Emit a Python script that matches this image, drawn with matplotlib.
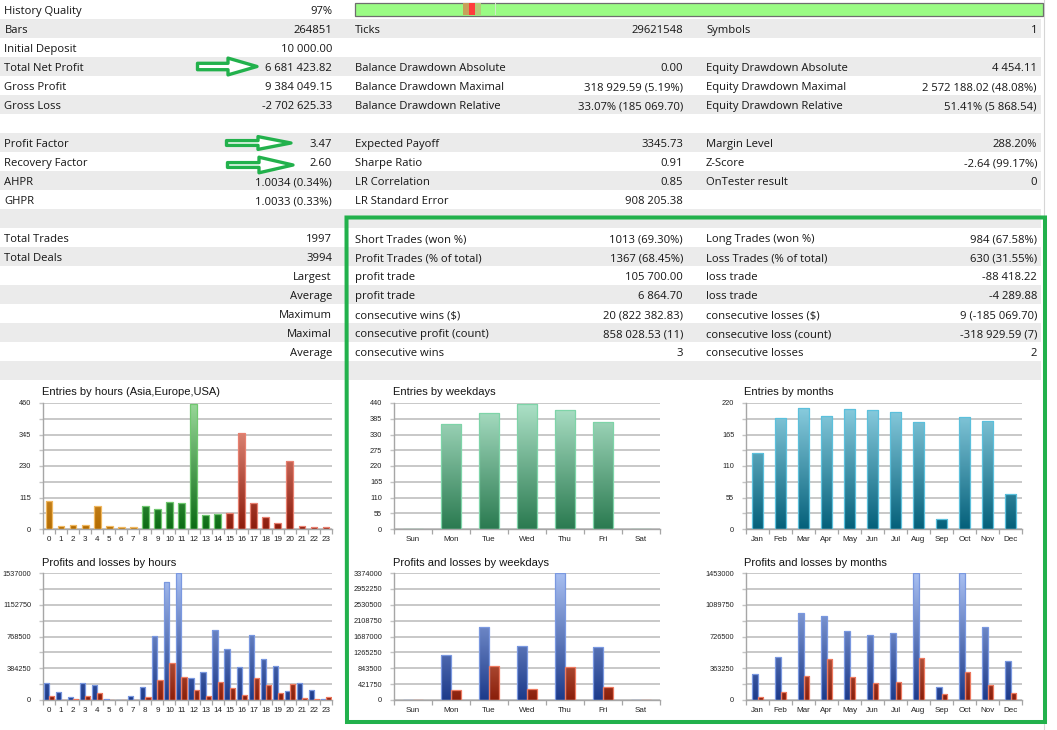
import numpy as np
import matplotlib
matplotlib.use("Agg")
import matplotlib.pyplot as plt
from matplotlib.colors import LinearSegmentedColormap
from matplotlib.patches import Polygon, Rectangle

# ---------------- data ----------------
COL1_LABELS = ["History Quality", "Bars", "Initial Deposit", "Total Net Profit", "Gross Profit", "Gross Loss", "",
               "Profit Factor", "Recovery Factor", "AHPR", "GHPR", "",
               "Total Trades", "Total Deals", "", "", "", "", "", ""]
COL1_VALUES = ["97%", "264851", "10 000.00", "6 681 423.82", "9 384 049.15", "-2 702 625.33", "",
               "3.47", "2.60", "1.0034 (0.34%)", "1.0033 (0.33%)", "",
               "1997", "3994", "Largest", "Average", "Maximum", "Maximal", "Average", ""]
COL2_LABELS = ["", "Ticks", "", "Balance Drawdown Absolute", "Balance Drawdown Maximal", "Balance Drawdown Relative", "",
               "Expected Payoff", "Sharpe Ratio", "LR Correlation", "LR Standard Error", "",
               "Short Trades (won %)", "Profit Trades (% of total)", "profit trade", "profit trade",
               "consecutive wins ($)", "consecutive profit (count)", "consecutive wins", ""]
COL2_VALUES = ["", "29621548", "", "0.00", "318 929.59 (5.19%)", "33.07% (185 069.70)", "",
               "3345.73", "0.91", "0.85", "908 205.38", "",
               "1013 (69.30%)", "1367 (68.45%)", "105 700.00", "6 864.70",
               "20 (822 382.83)", "858 028.53 (11)", "3", ""]
COL3_LABELS = ["", "Symbols", "", "Equity Drawdown Absolute", "Equity Drawdown Maximal", "Equity Drawdown Relative", "",
               "Margin Level", "Z-Score", "OnTester result", "", "",
               "Long Trades (won %)", "Loss Trades (% of total)", "loss trade", "loss trade",
               "consecutive losses ($)", "consecutive loss (count)", "consecutive losses", ""]
COL3_VALUES = ["", "1", "", "4 454.11", "2 572 188.02 (48.08%)", "51.41% (5 868.54)", "",
               "288.20%", "-2.64 (99.17%)", "0", "", "",
               "984 (67.58%)", "630 (31.55%)", "-88 418.22", "-4 289.88",
               "9 (-185 069.70)", "-318 929.59 (7)", "2", ""]

HOURS = ["0", "1", "2", "3", "4", "5", "6", "7", "8", "9", "10", "11",
         "12", "13", "14", "15", "16", "17", "18", "19", "20", "21", "22", "23"]
HOUR_ENTRIES = [102, 12, 13, 13, 85, 12, 7, 8, 84, 72, 97, 95,
                455, 51, 53, 58, 352, 96, 42, 21, 248, 12, 6, 7]
HOUR_PROFITS = [202000, 93000, 32000, 202000, 186000, 12000, 5000, 44000, 154000, 773000, 1428000, 1537000,
                263000, 336000, 845000, 615000, 400000, 781000, 502000, 413000, 109000, 210000, 117000, 16000]
HOUR_LOSSES = [49000, 4000, 8000, 53000, 89000, 1000, 2000, 4000, 32000, 247000, 445000, 279000,
               121000, 53000, 214000, 142000, 65000, 267000, 186000, 89000, 190000, 24000, 16000, 36000]
HOUR_ENTRY_TICKS = [0, 115, 230, 345, 460]
HOUR_PL_TICKS = [0, 384250, 768500, 1152750, 1537000]

WEEKDAYS = ["Sun", "Mon", "Tue", "Wed", "Thu", "Fri", "Sat"]
WEEKDAY_ENTRIES = [0, 367, 406, 437, 415, 372, 0]
WEEKDAY_PROFITS = [0, 1200000, 1950000, 1440000, 3374000, 1410000, 0]
WEEKDAY_LOSSES = [0, 275000, 897000, 284000, 870000, 337000, 0]
WEEKDAY_ENTRY_TICKS = [0, 55, 110, 165, 220, 275, 330, 385, 440]
WEEKDAY_PL_TICKS = [0, 421750, 843500, 1265250, 1687000, 2108750, 2530500, 2952250, 3374000]

MONTHS = ["Jan", "Feb", "Mar", "Apr", "May", "Jun", "Jul", "Aug", "Sep", "Oct", "Nov", "Dec"]
MONTH_ENTRIES = [133, 194, 212, 197, 210, 207, 205, 186, 17, 196, 189, 61]
MONTH_PROFITS = [302000, 497000, 994000, 964000, 784000, 746000, 765000, 1453000, 145000, 1453000, 834000, 451000]
MONTH_LOSSES = [38000, 96000, 272000, 470000, 264000, 191000, 203000, 478000, 73000, 317000, 176000, 84000]
MONTH_ENTRY_TICKS = [0, 55, 110, 165, 220]
MONTH_PL_TICKS = [0, 363250, 726500, 1089750, 1453000]

# ---------------- figure ----------------
W, H = 1057, 730
fig = plt.figure(figsize=(W / 100, H / 100), dpi=100)
bg = fig.add_axes([0, 0, 1, 1])
bg.set_xlim(0, W)
bg.set_ylim(H, 0)
bg.axis("off")

TF = "Open Sans"
TS = 8.1
TC = "#161616"
ROW_H = 19

for i in range(len(COL1_LABELS)):
    y0 = i * ROW_H
    if i % 2 == 1:
        bg.add_patch(Rectangle((0, y0), 1041, ROW_H, facecolor="#ebebeb", edgecolor="none", zorder=0))
    yb = y0 + 14.3
    kw = dict(fontsize=TS, family=TF, color=TC, va="baseline", parse_math=False, zorder=2)
    bg.text(4.5, yb, COL1_LABELS[i], ha="left", **kw)
    bg.text(332, yb, COL1_VALUES[i], ha="right", **kw)
    bg.text(355, yb, COL2_LABELS[i], ha="left", **kw)
    bg.text(683, yb, COL2_VALUES[i], ha="right", **kw)
    bg.text(706, yb, COL3_LABELS[i], ha="left", **kw)
    bg.text(1037, yb, COL3_VALUES[i], ha="right", **kw)

bg.plot([1043.5, 1043.5], [0, 730], color="#d6d6d6", lw=0.8, zorder=1)

# history quality bar
bg.add_patch(Rectangle((354.5, 2.5), 688, 13.5, facecolor="#9afb84", edgecolor="#6e6e6e", lw=0.9, zorder=2))
for x0, x1, c in [(463.3, 469, "#c8a05a"), (469, 475, "#ff3c3c"), (475, 480.7, "#b4cc78"),
                  (495.2, 496.2, "#cfe8c8")]:
    bg.add_patch(Rectangle((x0, 3.2), x1 - x0, 12.2, facecolor=c, edgecolor="none", zorder=3))

# ---------------- charts ----------------
CF = "Liberation Sans"


def px_axes(l, t, r, b):
    return fig.add_axes([l / W, 1 - b / H, (r - l) / W, (b - t) / H])


def grad_bars(ax, xs, vals, width, top, bottom, ymax, edge):
    cmap = LinearSegmentedColormap.from_list("g", [bottom, top])
    grad = np.linspace(0, 1, 256).reshape(-1, 1)
    bars = ax.bar(xs, vals, width=width, color="none", edgecolor=edge, linewidth=0.9, zorder=3)
    for b in bars:
        if b.get_height() <= 0:
            continue
        x0 = b.get_x()
        w = b.get_width()
        im = ax.imshow(grad, cmap=cmap, origin="lower", extent=(x0, x0 + w, 0, ymax),
                       aspect="auto", interpolation="bilinear", zorder=2.5)
        im.set_clip_path(b)


def style(ax, labels, ticks, minor):
    n = len(labels)
    ymax = ticks[-1]
    ax.set_facecolor("none")
    ax.set_xlim(-0.5, n - 0.5)
    ax.set_ylim(0, ymax)
    for s in ["top", "right"]:
        ax.spines[s].set_visible(False)
    for s in ["left", "bottom"]:
        ax.spines[s].set_color("#a6a6a6")
        ax.spines[s].set_linewidth(1.0)
    ax.set_yticks(ticks)
    ax.set_yticklabels([str(t) for t in ticks], family=CF, fontsize=5.3, color="#222222")
    if minor:
        mids = [(ticks[k] + ticks[k + 1]) / 2 for k in range(len(ticks) - 1)]
        ax.set_yticks(mids, minor=True)
    ax.yaxis.grid(True, which="both", color="#c4c4c4", lw=1.3, zorder=0)
    ax.set_axisbelow(True)
    ax.set_xticks(np.arange(n))
    ax.set_xticklabels(labels, family=CF, fontsize=5.8, color="#222222")
    ax.set_xticks(np.arange(n + 1) - 0.5, minor=True)
    ax.tick_params(axis="x", which="major", length=0, pad=5)
    ax.tick_params(axis="x", which="minor", length=3.5, color="#a6a6a6", width=0.9)
    ax.tick_params(axis="y", which="both", length=3, color="#c4c4c4", width=1.0, pad=5.5)


def title(x, y, s):
    bg.text(x, y, s, family=CF, fontsize=8.0, color="#141414", ha="left", va="center")


# Entries by hours
ax1 = px_axes(43, 403, 332, 529)
xh = np.arange(len(HOURS))
groups = [(range(0, 8), "#f4c27c", "#b46c00", "#f0b860"),
          (range(8, 15), "#9ad89a", "#0b6b14", "#70c870"),
          (range(15, 24), "#f2a090", "#8c1c0c", "#e88070")]
for rng, top, bot, edge in groups:
    idx = list(rng)
    grad_bars(ax1, xh[idx], [HOUR_ENTRIES[k] for k in idx], 0.56, top, bot, HOUR_ENTRY_TICKS[-1], edge)
style(ax1, HOURS, HOUR_ENTRY_TICKS, True)
title(42, 392, "Entries by hours (Asia,Europe,USA)")

BLUE_T, BLUE_B, BLUE_E = "#a9c0f2", "#1c3a8a", "#7a98e0"
RED_T, RED_B, RED_E = "#ffb898", "#8a1e0a", "#ee7a60"

# Profits and losses by hours
ax2 = px_axes(43, 573, 332, 700)
ym = HOUR_PL_TICKS[-1]
grad_bars(ax2, xh - 0.215, HOUR_PROFITS, 0.43, BLUE_T, BLUE_B, ym, BLUE_E)
grad_bars(ax2, xh + 0.215, HOUR_LOSSES, 0.43, RED_T, RED_B, ym, RED_E)
style(ax2, HOURS, HOUR_PL_TICKS, True)
title(42, 563, "Profits and losses by hours")

# Entries by weekdays
xw = np.arange(len(WEEKDAYS))
ax3 = px_axes(394, 403, 660, 529)
grad_bars(ax3, xw, WEEKDAY_ENTRIES, 0.53, "#aee2c8", "#2a7a50", WEEKDAY_ENTRY_TICKS[-1], "#7ed4a8")
style(ax3, WEEKDAYS, WEEKDAY_ENTRY_TICKS, False)
title(393, 392, "Entries by weekdays")

# Profits and losses by weekdays
ax4 = px_axes(394, 573, 660, 700)
ym = WEEKDAY_PL_TICKS[-1]
grad_bars(ax4, xw - 0.13, WEEKDAY_PROFITS, 0.26, BLUE_T, BLUE_B, ym, BLUE_E)
grad_bars(ax4, xw + 0.13, WEEKDAY_LOSSES, 0.26, RED_T, RED_B, ym, RED_E)
style(ax4, WEEKDAYS, WEEKDAY_PL_TICKS, False)
title(393, 563, "Profits and losses by weekdays")

# Entries by months
xm = np.arange(len(MONTHS))
ax5 = px_axes(746, 403, 1022, 529)
grad_bars(ax5, xm, MONTH_ENTRIES, 0.5, "#8ed0e2", "#04607a", MONTH_ENTRY_TICKS[-1], "#5cc0dc")
style(ax5, MONTHS, MONTH_ENTRY_TICKS, True)
title(744, 392, "Entries by months")

# Profits and losses by months
ax6 = px_axes(746, 573, 1022, 700)
ym = MONTH_PL_TICKS[-1]
grad_bars(ax6, xm - 0.125, MONTH_PROFITS, 0.25, BLUE_T, BLUE_B, ym, BLUE_E)
grad_bars(ax6, xm + 0.125, MONTH_LOSSES, 0.25, RED_T, RED_B, ym, RED_E)
style(ax6, MONTHS, MONTH_PL_TICKS, True)
title(744, 563, "Profits and losses by months")

# ---------------- overlay: annotations ----------------
ov = fig.add_axes([0, 0, 1, 1], zorder=10)
ov.set_xlim(0, W)
ov.set_ylim(H, 0)
ov.axis("off")
ov.patch.set_alpha(0)

GREEN = "#22b14c"


def arrow(x0, xh, x1, yc, sh, hh):
    pts = [(x0, yc - sh), (xh, yc - sh), (xh, yc - hh), (x1, yc), (xh, yc + hh), (xh, yc + sh), (x0, yc + sh)]
    ov.add_patch(Polygon(pts, closed=True, facecolor="white", edgecolor=GREEN, lw=2.4, joinstyle="round"))


arrow(197.5, 228, 257, 66.5, 3.2, 8.4)
arrow(226.5, 258, 291, 143, 2.4, 6.4)
arrow(227.5, 259, 293, 165, 2.4, 7.8)

ov.add_patch(Polygon([(346.5, 217.5), (1045, 217.5), (1045, 722), (347, 722)], closed=True,
                     fill=False, edgecolor=GREEN, lw=2.9, joinstyle="miter"))

fig.savefig("out.png", dpi=100, facecolor="white")
